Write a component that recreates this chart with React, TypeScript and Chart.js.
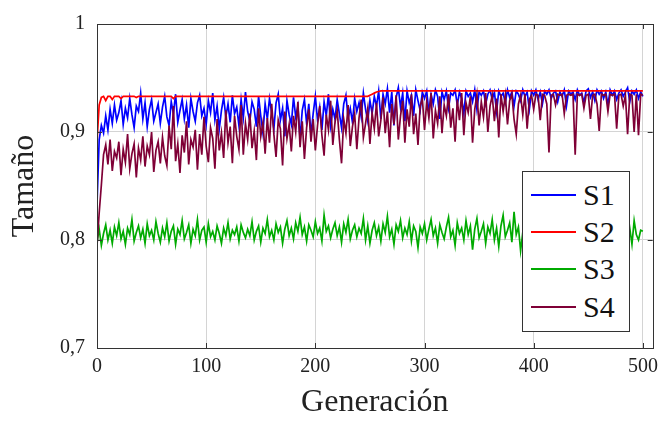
import React, { useEffect, useRef } from "react";
import { Chart, registerables } from "chart.js";

Chart.register(...registerables);

const generations = [
  0, 2, 4, 6, 8, 10, 12, 14, 16, 18,
  20, 22, 24, 26, 28, 30, 32, 34, 36, 38,
  40, 42, 44, 46, 48, 50, 52, 54, 56, 58,
  60, 62, 64, 66, 68, 70, 72, 74, 76, 78,
  80, 82, 84, 86, 88, 90, 92, 94, 96, 98,
  100, 102, 104, 106, 108, 110, 112, 114, 116, 118,
  120, 122, 124, 126, 128, 130, 132, 134, 136, 138,
  140, 142, 144, 146, 148, 150, 152, 154, 156, 158,
  160, 162, 164, 166, 168, 170, 172, 174, 176, 178,
  180, 182, 184, 186, 188, 190, 192, 194, 196, 198,
  200, 202, 204, 206, 208, 210, 212, 214, 216, 218,
  220, 222, 224, 226, 228, 230, 232, 234, 236, 238,
  240, 242, 244, 246, 248, 250, 252, 254, 256, 258,
  260, 262, 264, 266, 268, 270, 272, 274, 276, 278,
  280, 282, 284, 286, 288, 290, 292, 294, 296, 298,
  300, 302, 304, 306, 308, 310, 312, 314, 316, 318,
  320, 322, 324, 326, 328, 330, 332, 334, 336, 338,
  340, 342, 344, 346, 348, 350, 352, 354, 356, 358,
  360, 362, 364, 366, 368, 370, 372, 374, 376, 378,
  380, 382, 384, 386, 388, 390, 392, 394, 396, 398,
  400, 402, 404, 406, 408, 410, 412, 414, 416, 418,
  420, 422, 424, 426, 428, 430, 432, 434, 436, 438,
  440, 442, 444, 446, 448, 450, 452, 454, 456, 458,
  460, 462, 464, 466, 468, 470, 472, 474, 476, 478,
  480, 482, 484, 486, 488, 490, 492, 494, 496, 498,
  500,
];

const s1 = [
  0.833, 0.893, 0.906, 0.899, 0.915, 0.902, 0.921, 0.908, 0.925, 0.911,
  0.918, 0.929, 0.907, 0.922, 0.913, 0.931, 0.916, 0.904, 0.924, 0.919,
  0.936, 0.912, 0.927, 0.905, 0.921, 0.930, 0.910, 0.918, 0.926, 0.908,
  0.923, 0.933, 0.914, 0.906, 0.928, 0.917, 0.935, 0.909, 0.920, 0.930,
  0.912, 0.925, 0.904, 0.931, 0.919, 0.910, 0.927, 0.934, 0.915, 0.922,
  0.907, 0.929, 0.918, 0.936, 0.911, 0.924, 0.903, 0.920, 0.932, 0.914,
  0.926, 0.909, 0.934, 0.917, 0.923, 0.906, 0.930, 0.913, 0.937, 0.919,
  0.910, 0.928, 0.921, 0.905, 0.933, 0.915, 0.899, 0.926, 0.912, 0.931,
  0.918, 0.903, 0.927, 0.935, 0.911, 0.922, 0.896, 0.929, 0.916, 0.907,
  0.932, 0.914, 0.924, 0.894, 0.920, 0.930, 0.908, 0.926, 0.897, 0.917,
  0.933, 0.911, 0.923, 0.902, 0.928, 0.915, 0.935, 0.906, 0.921, 0.912,
  0.930, 0.917, 0.904, 0.926, 0.934, 0.913, 0.922, 0.909, 0.931, 0.919,
  0.927, 0.914, 0.936, 0.921, 0.910, 0.929, 0.917, 0.933, 0.924, 0.938,
  0.912, 0.935, 0.926, 0.940, 0.918, 0.937, 0.906, 0.932, 0.941, 0.923,
  0.936, 0.910, 0.938, 0.927, 0.934, 0.915, 0.939, 0.929, 0.920, 0.937,
  0.931, 0.938, 0.918, 0.935, 0.926, 0.939, 0.933, 0.912, 0.937, 0.930,
  0.938, 0.922, 0.936, 0.934, 0.939, 0.925, 0.937, 0.931, 0.917, 0.938,
  0.933, 0.936, 0.928, 0.939, 0.921, 0.937, 0.934, 0.938, 0.926, 0.935,
  0.939, 0.930, 0.937, 0.919, 0.938, 0.933, 0.936, 0.927, 0.939, 0.932,
  0.937, 0.924, 0.938, 0.935, 0.929, 0.939, 0.933, 0.937, 0.921, 0.938,
  0.934, 0.939, 0.930, 0.937, 0.926, 0.938, 0.935, 0.939, 0.931, 0.936,
  0.938, 0.928, 0.937, 0.933, 0.939, 0.924, 0.938, 0.935, 0.937, 0.930,
  0.939, 0.934, 0.936, 0.927, 0.938, 0.940, 0.932, 0.937, 0.929, 0.939,
  0.935, 0.938, 0.931, 0.937, 0.925, 0.939, 0.934, 0.938, 0.930, 0.936,
  0.939, 0.933, 0.937, 0.941, 0.928, 0.938, 0.935, 0.939, 0.931, 0.937,
  0.933,
];

const s2 = [
  0.891, 0.925, 0.932, 0.933, 0.929, 0.933, 0.933, 0.930, 0.933, 0.933,
  0.933, 0.931, 0.933, 0.933, 0.933, 0.933, 0.933, 0.933, 0.932, 0.933,
  0.933, 0.933, 0.933, 0.933, 0.933, 0.933, 0.933, 0.933, 0.933, 0.933,
  0.933, 0.933, 0.933, 0.933, 0.933, 0.931, 0.933, 0.933, 0.933, 0.933,
  0.933, 0.933, 0.933, 0.933, 0.933, 0.933, 0.933, 0.933, 0.933, 0.933,
  0.933, 0.933, 0.933, 0.933, 0.933, 0.933, 0.933, 0.933, 0.933, 0.933,
  0.933, 0.933, 0.933, 0.933, 0.933, 0.933, 0.933, 0.933, 0.933, 0.933,
  0.933, 0.933, 0.933, 0.933, 0.933, 0.933, 0.933, 0.933, 0.933, 0.933,
  0.933, 0.933, 0.933, 0.933, 0.933, 0.933, 0.933, 0.933, 0.933, 0.933,
  0.933, 0.933, 0.933, 0.933, 0.933, 0.933, 0.933, 0.933, 0.933, 0.933,
  0.933, 0.933, 0.933, 0.933, 0.933, 0.933, 0.933, 0.933, 0.933, 0.933,
  0.933, 0.933, 0.933, 0.933, 0.933, 0.933, 0.933, 0.933, 0.933, 0.933,
  0.933, 0.933, 0.933, 0.933, 0.933, 0.934, 0.935, 0.936, 0.937, 0.9375,
  0.938, 0.938, 0.938, 0.938, 0.938, 0.938, 0.938, 0.938, 0.938, 0.938,
  0.938, 0.938, 0.938, 0.938, 0.938, 0.938, 0.938, 0.938, 0.938, 0.938,
  0.938, 0.938, 0.938, 0.938, 0.938, 0.938, 0.938, 0.938, 0.938, 0.938,
  0.938, 0.938, 0.938, 0.938, 0.938, 0.938, 0.938, 0.938, 0.938, 0.938,
  0.938, 0.938, 0.938, 0.938, 0.938, 0.938, 0.938, 0.938, 0.938, 0.938,
  0.938, 0.938, 0.938, 0.938, 0.938, 0.938, 0.938, 0.938, 0.938, 0.938,
  0.938, 0.938, 0.938, 0.938, 0.938, 0.938, 0.938, 0.938, 0.938, 0.938,
  0.938, 0.938, 0.938, 0.938, 0.938, 0.938, 0.938, 0.938, 0.938, 0.938,
  0.938, 0.938, 0.938, 0.938, 0.938, 0.938, 0.938, 0.938, 0.938, 0.938,
  0.938, 0.938, 0.938, 0.938, 0.938, 0.938, 0.938, 0.938, 0.938, 0.938,
  0.938, 0.938, 0.938, 0.938, 0.938, 0.938, 0.938, 0.938, 0.938, 0.938,
  0.938, 0.938, 0.938, 0.938, 0.938, 0.938, 0.938, 0.938, 0.938, 0.938,
  0.938,
];

const s3 = [
  0.798, 0.810, 0.795, 0.806, 0.814, 0.800, 0.809, 0.797, 0.812, 0.804,
  0.816, 0.801, 0.808, 0.796, 0.811, 0.805, 0.819, 0.799, 0.807, 0.813,
  0.802, 0.810, 0.797, 0.815, 0.804, 0.809, 0.800, 0.817, 0.806, 0.798,
  0.811, 0.803, 0.816, 0.799, 0.808, 0.813, 0.796, 0.810, 0.805, 0.818,
  0.801, 0.807, 0.814, 0.797, 0.810, 0.804, 0.819, 0.800, 0.809, 0.812,
  0.798, 0.815, 0.803, 0.808, 0.800, 0.813, 0.806, 0.797, 0.811, 0.804,
  0.816, 0.801, 0.809, 0.805, 0.812, 0.799, 0.814, 0.807, 0.802, 0.810,
  0.804, 0.817, 0.800, 0.808, 0.813, 0.798, 0.811, 0.806, 0.819, 0.803,
  0.809, 0.800, 0.815, 0.807, 0.812, 0.797, 0.810, 0.818, 0.804, 0.811,
  0.801, 0.816, 0.808, 0.821, 0.805, 0.812, 0.799, 0.814, 0.809, 0.803,
  0.817, 0.806, 0.811, 0.799, 0.823, 0.808, 0.813, 0.802, 0.810, 0.816,
  0.804, 0.812, 0.798, 0.815, 0.807, 0.819, 0.801, 0.809, 0.814, 0.803,
  0.811, 0.806, 0.820, 0.800, 0.813, 0.797, 0.809, 0.816, 0.804, 0.812,
  0.799, 0.815, 0.807, 0.822, 0.803, 0.810, 0.796, 0.814, 0.808, 0.818,
  0.802, 0.811, 0.805, 0.817, 0.799, 0.813, 0.808, 0.793, 0.812, 0.806,
  0.815, 0.800, 0.810, 0.819, 0.804, 0.811, 0.797, 0.814, 0.807, 0.801,
  0.812, 0.821, 0.803, 0.809, 0.795, 0.816, 0.806, 0.811, 0.800, 0.818,
  0.805, 0.813, 0.791, 0.810, 0.820, 0.802, 0.808, 0.815, 0.797, 0.812,
  0.806, 0.819, 0.800, 0.811, 0.794, 0.813, 0.823, 0.803, 0.809, 0.816,
  0.798, 0.826, 0.805, 0.812, 0.790, 0.807, 0.817, 0.801, 0.811, 0.796,
  0.814, 0.804, 0.810, 0.799, 0.818, 0.806, 0.812, 0.800, 0.815, 0.808,
  0.803, 0.811, 0.797, 0.816, 0.805, 0.810, 0.801, 0.813, 0.807, 0.799,
  0.812, 0.806, 0.819, 0.802, 0.809, 0.814, 0.798, 0.811, 0.805, 0.817,
  0.800, 0.825, 0.807, 0.792, 0.812, 0.804, 0.816, 0.801, 0.810, 0.806,
  0.813, 0.799, 0.822, 0.803, 0.811, 0.796, 0.818, 0.805, 0.800, 0.809,
  0.808,
];

const s4 = [
  0.795, 0.825, 0.851, 0.879, 0.888, 0.870, 0.893, 0.864, 0.882, 0.876,
  0.891, 0.860, 0.884, 0.872, 0.898, 0.866, 0.880, 0.889, 0.858, 0.885,
  0.874, 0.896, 0.868, 0.887, 0.879, 0.900, 0.863, 0.883, 0.891, 0.871,
  0.895, 0.878, 0.869, 0.906, 0.884, 0.924, 0.873, 0.889, 0.862, 0.897,
  0.881, 0.910, 0.870, 0.893, 0.886, 0.902, 0.865, 0.898, 0.879, 0.914,
  0.887, 0.872, 0.904, 0.894, 0.866, 0.912, 0.883, 0.899, 0.876, 0.920,
  0.890, 0.905, 0.871, 0.915, 0.896, 0.884, 0.925, 0.879, 0.908, 0.893,
  0.917, 0.885, 0.901, 0.874, 0.922, 0.896, 0.909, 0.880, 0.913, 0.890,
  0.926, 0.898, 0.877, 0.911, 0.903, 0.869, 0.919, 0.894, 0.907, 0.882,
  0.915, 0.900, 0.928, 0.886, 0.910, 0.875, 0.904, 0.921, 0.891, 0.912,
  0.883, 0.906, 0.924, 0.897, 0.878, 0.916, 0.902, 0.929, 0.888, 0.909,
  0.920, 0.893, 0.871, 0.912, 0.899, 0.925, 0.887, 0.905, 0.917, 0.884,
  0.913, 0.930, 0.895, 0.908, 0.922, 0.889, 0.918, 0.903, 0.927, 0.896,
  0.911, 0.932, 0.899, 0.919, 0.886, 0.926, 0.907, 0.934, 0.893, 0.915,
  0.929, 0.890, 0.921, 0.905, 0.935, 0.898, 0.917, 0.888, 0.924, 0.931,
  0.902, 0.928, 0.913, 0.936, 0.894, 0.920, 0.908, 0.933, 0.899, 0.925,
  0.915, 0.935, 0.904, 0.922, 0.891, 0.930, 0.911, 0.936, 0.897, 0.927,
  0.918, 0.933, 0.890, 0.921, 0.935, 0.906, 0.928, 0.914, 0.936, 0.900,
  0.924, 0.934, 0.910, 0.931, 0.895, 0.935, 0.919, 0.934, 0.907, 0.929,
  0.935, 0.912, 0.898, 0.926, 0.934, 0.916, 0.935, 0.903, 0.930, 0.934,
  0.921, 0.935, 0.934, 0.911, 0.935, 0.934, 0.926, 0.881, 0.934, 0.935,
  0.925, 0.935, 0.934, 0.935, 0.917, 0.934, 0.935, 0.934, 0.935, 0.879,
  0.935, 0.934, 0.935, 0.922, 0.934, 0.935, 0.912, 0.934, 0.935, 0.926,
  0.901, 0.935, 0.934, 0.935, 0.919, 0.935, 0.934, 0.935, 0.903, 0.934,
  0.935, 0.924, 0.934, 0.898, 0.935, 0.934, 0.900, 0.935, 0.897, 0.935,
  0.934,
];

const seriesNames = ["S1", "S2", "S3", "S4"];
const seriesValues = [s1, s2, s3, s4];
const seriesColors = ["#0000ff", "#ff0000", "#00aa00", "#7f0036"];
const xTicks = [0, 100, 200, 300, 400, 500];
const yTicks = [0.7, 0.8, 0.9, 1];
const xTitle = "Generación";
const yTitle = "Tamaño";

const FONT = "'Liberation Serif', 'DejaVu Serif', serif";

const framePlugin = {
  id: "frameTicks",
  afterDatasetsDraw(chart: any) {
    const { ctx, chartArea, scales } = chart;
    const { left, right, top, bottom } = chartArea;
    const x = scales.x;
    const y = scales.y;
    ctx.save();
    ctx.strokeStyle = "#333333";
    ctx.lineWidth = 1;
    ctx.beginPath();
    for (const v of xTicks) {
      const px = Math.round(x.getPixelForValue(v)) + 0.5;
      ctx.moveTo(px, bottom);
      ctx.lineTo(px, bottom - 5);
      ctx.moveTo(px, top);
      ctx.lineTo(px, top + 5);
    }
    for (const v of yTicks) {
      const py = Math.round(y.getPixelForValue(v)) + 0.5;
      ctx.moveTo(left, py);
      ctx.lineTo(left + 5, py);
      ctx.moveTo(right, py);
      ctx.lineTo(right - 5, py);
    }
    ctx.stroke();
    ctx.strokeRect(
      Math.round(left) + 0.5,
      Math.round(top) + 0.5,
      Math.round(right - left),
      Math.round(bottom - top)
    );
    ctx.restore();
  },
};

export default function App() {
  const canvasRef = useRef<HTMLCanvasElement | null>(null);

  useEffect(() => {
    if (!canvasRef.current) return;
    const datasets = seriesNames.map((name, i) => ({
      label: name,
      data: generations.map((g, j) => ({ x: g, y: seriesValues[i][j] })),
      borderColor: seriesColors[i],
      backgroundColor: seriesColors[i],
      borderWidth: 1.7,
      pointRadius: 0,
      tension: 0,
      fill: false,
      order: seriesNames.length - i,
    }));
    const chart = new Chart(canvasRef.current, {
      type: "line",
      data: { datasets },
      plugins: [framePlugin],
      options: {
        animation: false,
        responsive: false,
        devicePixelRatio: 1,
        layout: { padding: { top: 14, right: 7, left: 0, bottom: 0 } },
        plugins: {
          legend: { display: false },
          tooltip: { enabled: false },
        },
        scales: {
          x: {
            type: "linear",
            min: 0,
            max: 509,
            afterBuildTicks: (scale: any) => {
              scale.ticks = xTicks.map((v) => ({ value: v }));
            },
            afterFit: (scale: any) => {
              scale.height = 78;
            },
            ticks: {
              padding: 7,
              color: "#222",
              font: { family: FONT, size: 20 },
              maxRotation: 0,
              callback: (v: any) => String(v),
            },
            grid: { color: "#d4d4d4", lineWidth: 1, drawTicks: false },
            border: { display: false },
            title: {
              display: true,
              text: xTitle,
              color: "#222",
              font: { family: FONT, size: 32 },
              padding: { top: 0, bottom: 4 },
            },
          },
          y: {
            type: "linear",
            min: 0.7,
            max: 1,
            afterBuildTicks: (scale: any) => {
              scale.ticks = yTicks.map((v) => ({ value: v }));
            },
            afterFit: (scale: any) => {
              scale.width = 97;
            },
            ticks: {
              padding: 12,
              color: "#222",
              font: { family: FONT, size: 20 },
              callback: (v: any) => (v === 1 ? "1" : String(v).replace(".", ",")),
            },
            grid: { color: "#d4d4d4", lineWidth: 1, drawTicks: false },
            border: { display: false },
            title: {
              display: true,
              text: yTitle,
              color: "#222",
              font: { family: FONT, size: 32 },
              padding: { top: 5, bottom: 0 },
            },
          },
        },
      },
    } as any);
    return () => chart.destroy();
  }, []);

  const legendTop = 171;
  const legendRowY = [195, 232, 269, 307];

  return (
    <div style={{ position: "fixed", left: 0, top: 0, width: 665, height: 426, background: "#fff" }}>
      <canvas ref={canvasRef} width={665} height={426} style={{ display: "block", width: 665, height: 426 }} />
      <div
        style={{
          position: "absolute",
          left: 522,
          top: legendTop,
          width: 108,
          height: 161,
          border: "1px solid #333",
          background: "#fff",
          boxSizing: "border-box",
        }}
      >
        {seriesNames.map((name, i) => (
          <React.Fragment key={name}>
            <div
              style={{
                position: "absolute",
                left: 8,
                top: legendRowY[i] - legendTop - 2,
                width: 45,
                height: 2,
                background: seriesColors[i],
              }}
            />
            <div
              style={{
                position: "absolute",
                left: 60,
                top: legendRowY[i] - legendTop - 18,
                height: 34,
                lineHeight: "34px",
                fontFamily: FONT,
                fontSize: 30,
                color: "#111",
                whiteSpace: "nowrap",
              }}
            >
              {name}
            </div>
          </React.Fragment>
        ))}
      </div>
    </div>
  );
}
